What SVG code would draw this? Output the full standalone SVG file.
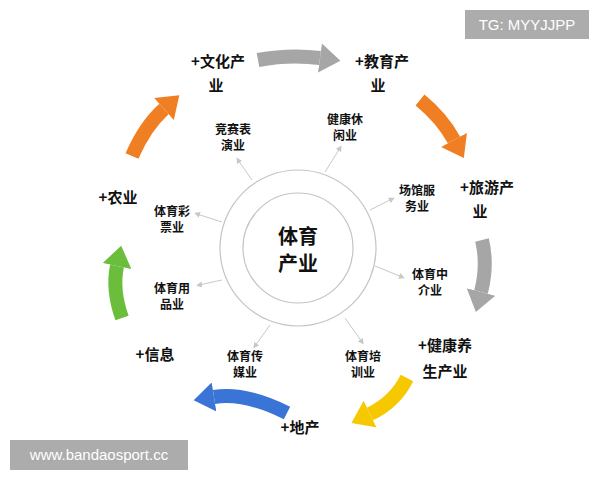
<svg xmlns="http://www.w3.org/2000/svg" width="600" height="480" viewBox="0 0 600 480">
<style>
text{font-family:"Noto Sans CJK SC","Liberation Sans",sans-serif;font-weight:bold;fill:#111;text-anchor:middle}
.s{font-size:12px}.o{font-size:15px}.c{font-size:20px}
.big{fill:none;stroke-width:14}
.sp{stroke:#c8c8c8;stroke-width:1;fill:none;marker-end:url(#sm)}
</style>
<defs>
<marker id="hg" viewBox="0 0 14 20" refX="0" refY="10" markerWidth="1.5" markerHeight="2.1" orient="auto"><path d="M0,0L14,10L0,20z" fill="#a6a6a6"/></marker>
<marker id="ho" viewBox="0 0 14 20" refX="0" refY="10" markerWidth="1.5" markerHeight="2.1" orient="auto"><path d="M0,0L14,10L0,20z" fill="#f07f23"/></marker>
<marker id="hy" viewBox="0 0 14 20" refX="0" refY="10" markerWidth="1.5" markerHeight="2.1" orient="auto"><path d="M0,0L14,10L0,20z" fill="#f5c800"/></marker>
<marker id="hb" viewBox="0 0 14 20" refX="0" refY="10" markerWidth="1.5" markerHeight="2.1" orient="auto"><path d="M0,0L14,10L0,20z" fill="#3a74d6"/></marker>
<marker id="hn" viewBox="0 0 14 20" refX="0" refY="10" markerWidth="1.5" markerHeight="2.1" orient="auto"><path d="M0,0L14,10L0,20z" fill="#6bbd3c"/></marker>
<marker id="sm" viewBox="0 0 6 6" refX="3" refY="3" markerWidth="6" markerHeight="6" markerUnits="userSpaceOnUse" orient="auto"><path d="M0,0L6,3L0,6z" fill="#c8c8c8"/></marker>
</defs>
<rect width="600" height="480" fill="#fff"/>
<g id="connectors">
<path class="big" stroke="#a6a6a6" marker-end="url(#hg)" d="M258,60Q290,54 320,58"/>
<path class="big" stroke="#f07f23" marker-end="url(#ho)" d="M420,100Q442,118 454,140"/>
<path class="big" stroke="#a6a6a6" marker-end="url(#hg)" d="M482,240Q488,265 481,292"/>
<path class="big" stroke="#f5c800" marker-end="url(#hy)" d="M407,378Q395,402 370,414"/>
<path class="big" stroke="#3a74d6" marker-end="url(#hb)" d="M287,413Q245,392 214,397"/>
<path class="big" stroke="#6bbd3c" marker-end="url(#hn)" d="M122,318Q112,290 117,266"/>
<path class="big" stroke="#f07f23" marker-end="url(#ho)" d="M132,156Q145,126 164,109"/>
<path class="sp" d="M252,180L238,160"/>
<path class="sp" d="M325,172L340,148"/>
<path class="sp" d="M370,210L392,199"/>
<path class="sp" d="M375,266L402,277"/>
<path class="sp" d="M345,318L362,342"/>
<path class="sp" d="M270,325L255,346"/>
<path class="sp" d="M222,280L199,285"/>
<path class="sp" d="M222,222L197,214"/>
</g>
<g id="center"><circle cx="298" cy="248" r="78" fill="none" stroke="#c4c4c4" stroke-width="1.2"/><circle cx="298" cy="248" r="55" fill="none" stroke="#c4c4c4" stroke-width="1.2"/><text class="c" x="298" y="244">体育</text><text class="c" x="298" y="271">产业</text></g>
<g id="n1"><text class="s" x="233" y="134">竞赛表</text><text class="s" x="233" y="150">演业</text></g>
<g id="n2"><text class="s" x="345" y="124">健康休</text><text class="s" x="345" y="140">闲业</text></g>
<g id="n3"><text class="s" x="417" y="195">场馆服</text><text class="s" x="417" y="211">务业</text></g>
<g id="n4"><text class="s" x="430" y="279">体育中</text><text class="s" x="430" y="295">介业</text></g>
<g id="n5"><text class="s" x="363" y="361">体育培</text><text class="s" x="363" y="377">训业</text></g>
<g id="n6"><text class="s" x="245" y="361">体育传</text><text class="s" x="245" y="377">媒业</text></g>
<g id="n7"><text class="s" x="172" y="293">体育用</text><text class="s" x="172" y="309">品业</text></g>
<g id="n8"><text class="s" x="172" y="216">体育彩</text><text class="s" x="172" y="232">票业</text></g>
<g id="o1"><text class="o" x="218" y="67">+文化产</text><text class="o" x="216" y="91">业</text></g>
<g id="o2"><text class="o" x="382" y="67">+教育产</text><text class="o" x="378" y="91">业</text></g>
<g id="o3"><text class="o" x="487" y="193">+旅游产</text><text class="o" x="480" y="217">业</text></g>
<g id="o4"><text class="o" x="445" y="351">+健康养</text><text class="o" x="445" y="377">生产业</text></g>
<g id="o5"><text class="o" x="300" y="433">+地产</text></g>
<g id="o6"><text class="o" x="155" y="360">+信息</text></g>
<g id="o7"><text class="o" x="118" y="203">+农业</text></g>
<g id="wm"><rect x="465" y="10" width="124" height="29" fill="#9e9e9e" opacity="0.85"/><text x="527" y="30" style="font-family:'Liberation Sans',sans-serif;font-weight:normal;font-size:15px;fill:#fff">TG: MYYJJPP</text>
<rect x="10" y="440" width="178" height="30" fill="#9e9e9e" opacity="0.85"/><text x="99" y="460" style="font-family:'Liberation Sans',sans-serif;font-weight:normal;font-size:15px;fill:#fff">www.bandaosport.cc</text></g>
</svg>
